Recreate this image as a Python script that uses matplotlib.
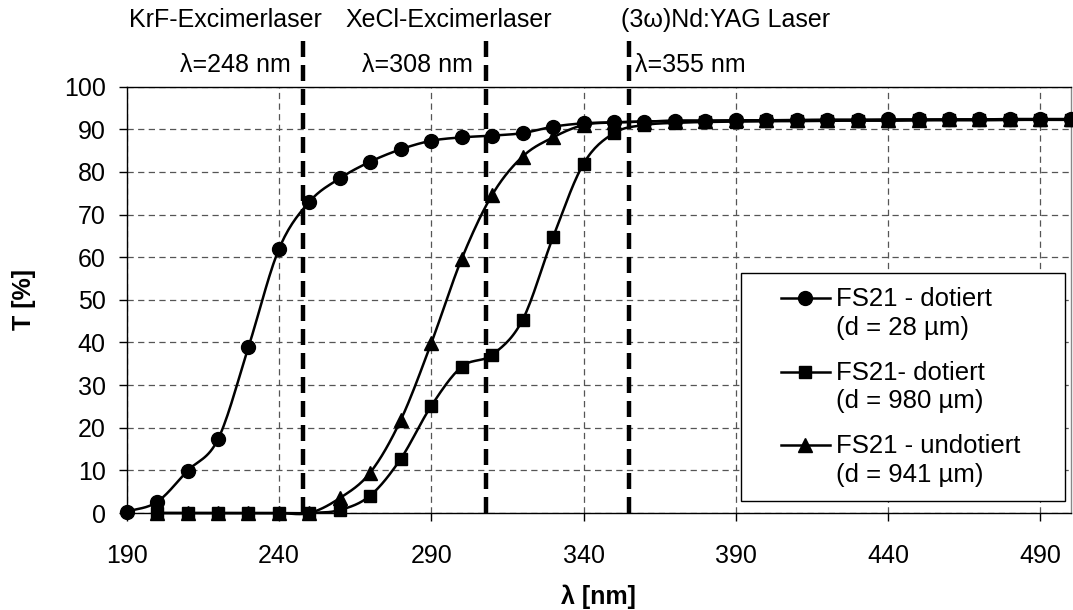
import numpy as np
import matplotlib
matplotlib.use('Agg')
import matplotlib.pyplot as plt
from matplotlib.lines import Line2D
from matplotlib.legend_handler import HandlerBase

plt.rcParams['font.family'] = ['Liberation Sans', 'DejaVu Sans']

# wavelength grid [nm] and transmission [%]
wl_a = [190, 200, 210, 220, 230, 240, 250, 260, 270, 280, 290, 300, 310, 320, 330, 340,
        350, 360, 370, 380, 390, 400, 410, 420, 430, 440, 450, 460, 470, 480, 490, 500]
t_doped_thin = [0.3, 2.6, 9.9, 17.3, 38.9, 61.9, 73.0, 78.5, 82.4, 85.3, 87.3, 88.1, 88.5, 89.1, 90.6, 91.4,
                91.6, 91.8, 92.0, 92.0, 92.1, 92.1, 92.2, 92.2, 92.2, 92.3, 92.3, 92.3, 92.3, 92.4, 92.4, 92.4]

wl_b = [200, 210, 220, 230, 240, 250, 260, 270, 280, 290, 300, 310, 320, 330, 340, 350,
        360, 370, 380, 390, 400, 410, 420, 430, 440, 450, 460, 470, 480, 490, 500]
t_doped_thick = [0.0, 0.0, 0.0, 0.0, 0.0, 0.0, 0.7, 4.1, 12.7, 25.1, 34.3, 37.1, 45.3, 64.7, 81.9, 89.1,
                 91.0, 91.5, 91.7, 91.8, 91.9, 91.9, 92.0, 92.0, 92.0, 92.1, 92.1, 92.1, 92.2, 92.2, 92.2]
t_undoped = [0.0, 0.0, 0.0, 0.0, 0.0, 0.0, 3.5, 9.5, 21.8, 39.8, 59.6, 74.6, 83.6, 88.1, 91.0, 91.6,
             91.8, 92.0, 92.0, 92.1, 92.1, 92.1, 92.2, 92.2, 92.2, 92.2, 92.3, 92.3, 92.3, 92.3, 92.3]

series_labels = ['FS21 - dotiert\n(d = 28 µm)', 'FS21- dotiert\n(d = 980 µm)', 'FS21 - undotiert\n(d = 941 µm)']
series_markers = ['o', 's', '^']
marker_sizes = [10, 9, 10]

laser_wl = [248, 308, 355]
laser_names = ['KrF-Excimerlaser', 'XeCl-Excimerlaser', '(3ω)Nd:YAG Laser']
laser_labels = ['λ=248 nm', 'λ=308 nm', 'λ=355 nm']


def smooth(x, y, n=16):
    # Catmull-Rom spline through the measured points
    x = np.asarray(x, float)
    y = np.asarray(y, float)
    px = np.concatenate([[2 * x[0] - x[1]], x, [2 * x[-1] - x[-2]]])
    py = np.concatenate([[2 * y[0] - y[1]], y, [2 * y[-1] - y[-2]]])
    t = np.linspace(0, 1, n, endpoint=False)
    xs, ys = [], []
    for i in range(1, len(px) - 2):
        for p, out in ((px, xs), (py, ys)):
            p0, p1, p2, p3 = p[i - 1], p[i], p[i + 1], p[i + 2]
            out.append(0.5 * (2 * p1 + (-p0 + p2) * t + (2 * p0 - 5 * p1 + 4 * p2 - p3) * t ** 2
                              + (-p0 + 3 * p1 - 3 * p2 + p3) * t ** 3))
    xs.append([x[-1]])
    ys.append([y[-1]])
    return np.concatenate(xs), np.concatenate(ys)


class FirstLineHandler(HandlerBase):
    # short line + marker, level with the first line of a two-line label
    def create_artists(self, legend, orig_handle, xdescent, ydescent, width, height, fontsize, trans):
        y = (height - ydescent) / 2 + 11.5
        x0, x1 = width - 37, width - 2
        line = Line2D([x0, x1], [y, y], color='black', linewidth=1.8, transform=trans)
        mk = Line2D([(x0 + x1) / 2], [y], linestyle='none', marker=orig_handle.get_marker(),
                    markersize=orig_handle.get_markersize(), color='black', transform=trans)
        return [line, mk]


fig = plt.figure(figsize=(10.73, 6.10), dpi=100)
ax = fig.add_axes([0.118, 0.159, 0.880, 0.699])

ax.set_xlim(190, 500)
ax.set_ylim(0, 100)
ax.set_xticks(np.arange(190, 500, 50))
ax.set_yticks(np.arange(0, 101, 10))
ax.grid(True, color='#555555', linestyle=(0, (5, 3.5)), linewidth=0.9)
ax.set_axisbelow(True)
ax.tick_params(axis='both', labelsize=18, direction='out', length=6, width=1)
ax.tick_params(axis='x', pad=16)
ax.tick_params(axis='y', pad=9)
for s in ax.spines.values():
    s.set_linewidth(1.0)
ax.spines['right'].set_color('#888888')

handles = []
for (x, y), lab, m, ms in zip([(wl_a, t_doped_thin), (wl_b, t_doped_thick), (wl_b, t_undoped)],
                              series_labels, series_markers, marker_sizes):
    xs, ys = smooth(x, y)
    ax.plot(xs, ys, color='black', linewidth=1.8, clip_on=False, zorder=3)
    ax.plot(x, y, linestyle='none', marker=m, markersize=ms, color='black', clip_on=False, zorder=4)
    handles.append(Line2D([], [], color='black', linewidth=1.8, marker=m, markersize=ms, label=lab))

# laser lines with names above the plot
for wl in laser_wl:
    ax.plot([wl, wl], [0, 1.117], transform=ax.get_xaxis_transform(), color='black',
            linewidth=3.2, dashes=(3.6, 1.8), clip_on=False, zorder=5)
name_x = [190.7, 262, 352.3]
label_x = [243.8, 303.8, 357]
label_ha = ['right', 'right', 'left']
trans = ax.get_xaxis_transform()
for nx, lx, ha, name, lab in zip(name_x, label_x, label_ha, laser_names, laser_labels):
    ax.text(nx, 1.157, name, transform=trans, fontsize=18, ha='left', va='center')
    ax.text(lx, 1.05, lab, transform=trans, fontsize=18, ha=ha, va='center')

ax.set_xlabel('λ [nm]', fontsize=18, fontweight='bold', labelpad=12)
ax.set_ylabel('T [%]', fontsize=18, fontweight='bold', labelpad=20)

leg = ax.legend(handles=handles, handler_map={Line2D: FirstLineHandler()},
                loc='upper left', bbox_to_anchor=(0.651, 0.5637, 0.3426, 0.0),
                mode='expand', fontsize=18.5, frameon=True, fancybox=False, edgecolor='black',
                framealpha=1, handlelength=3.0, handletextpad=0.15, labelspacing=0.82,
                borderpad=0.55, borderaxespad=0)
for txt in leg.get_texts():
    txt.set_linespacing(1.25)
leg.get_frame().set_linewidth(1.0)
leg.set_zorder(6)

fig.savefig('out.png', dpi=100)
